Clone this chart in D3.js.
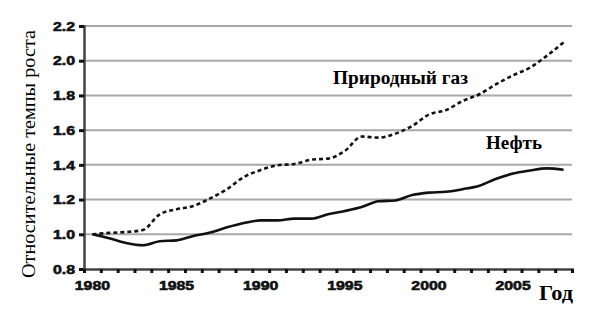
<!DOCTYPE html>
<html>
<head>
<meta charset="utf-8">
<script src="https://cdn.jsdelivr.net/npm/d3@7"></script>
<style>
  body { margin: 0; background: #fff; }
  svg { display: block; }
</style>
</head>
<body>
<div id="chart-area"></div>
<script>
const canvas_width = 600;
const canvas_height = 312;

const years = d3.range(1980, 2009);
const yearLabels = [1980, 1985, 1990, 1995, 2000, 2005];
const yTicks = [0.8, 1.0, 1.2, 1.4, 1.6, 1.8, 2.0, 2.2];

const oil = [1.00, 0.977, 0.95, 0.937, 0.96, 0.965, 0.99, 1.01, 1.04, 1.065,
             1.08, 1.08, 1.09, 1.09, 1.115, 1.134, 1.157, 1.19, 1.195, 1.226,
             1.24, 1.245, 1.26, 1.28, 1.32, 1.35, 1.367, 1.38, 1.372];
const gas = [1.00, 1.008, 1.013, 1.025, 1.115, 1.144, 1.163, 1.207, 1.26, 1.33,
             1.37, 1.398, 1.405, 1.43, 1.436, 1.48, 1.563, 1.557, 1.58, 1.624,
             1.69, 1.715, 1.768, 1.807, 1.865, 1.916, 1.96, 2.028, 2.105];

const sans = "'Liberation Sans', Arial, sans-serif";
const serif = "'Liberation Serif', 'Times New Roman', serif";

const margin = { left: 84, right: 28, top: 26, bottom: 43 };
const w = canvas_width - margin.left - margin.right;
const h = canvas_height - margin.top - margin.bottom;

// the original picture is stretched sideways a bit
const stretch = 1.22;
function widen(sel, k) {
    sel.each(function() {
        let len = this.getComputedTextLength();
        d3.select(this).attr('textLength', len * (k || stretch)).attr('lengthAdjust', 'spacingAndGlyphs');
    });
}

let svg = d3.select('#chart-area').append('svg')
    .attr('width', canvas_width)
    .attr('height', canvas_height);
let group = svg.append('g').attr('transform', `translate(${margin.left}, ${margin.top})`);

let x = d3.scaleBand()
    .domain(years)
    .range([0, w]);

let y = d3.scaleLinear()
    .domain([0.8, 2.2])
    .range([h, 0]);

// gridlines
group.selectAll('line.grid').data(yTicks.slice(1)).enter().append('line')
    .attr('class', 'grid')
    .attr('x1', 0).attr('x2', w)
    .attr('y1', d => y(d)).attr('y2', d => y(d))
    .attr('stroke', '#a8a8a8')
    .attr('stroke-width', 2);

// y axis
let leftAxis = d3.axisLeft(y)
    .tickValues(yTicks)
    .tickSize(5)
    .tickFormat(d3.format('.1f'));
let ly = group.append('g').attr('class', 'left axis').call(leftAxis);
ly.select('.domain').attr('stroke', '#444').attr('stroke-width', 2.5);
ly.selectAll('.tick line').attr('stroke', '#111').attr('stroke-width', 3);
ly.selectAll('.tick text')
    .attr('x', -9)
    .style('font-family', sans)
    .style('font-weight', 'bold')
    .style('font-size', '13px')
    .attr('fill', '#111')
    .attr('stroke', '#111')
    .attr('stroke-width', 0.6)
    .call(widen);

// x axis: ticks at category boundaries
let bounds = years.map(d => x(d)).concat([w]);
let bottomAxis = d3.axisBottom(d3.scaleLinear().domain([0, w]).range([0, w]))
    .tickValues(bounds)
    .tickSize(4)
    .tickFormat('');
let bx = group.append('g').attr('class', 'bottom axis')
    .attr('transform', `translate(0, ${h})`)
    .call(bottomAxis);
bx.select('.domain').attr('stroke', '#444').attr('stroke-width', 2.5);
bx.selectAll('.tick line').attr('stroke', '#111').attr('stroke-width', 3);

group.selectAll('text.xlab').data(yearLabels).enter().append('text')
    .attr('class', 'xlab')
    .attr('x', d => x(d) + x.bandwidth() / 2)
    .attr('y', h + 21)
    .attr('text-anchor', 'middle')
    .style('font-family', sans)
    .style('font-weight', 'bold')
    .style('font-size', '13px')
    .attr('fill', '#111')
    .attr('stroke', '#111')
    .attr('stroke-width', 0.6)
    .text(d => d)
    .call(widen);

// lines
let line = d3.line()
    .x((d, i) => x(years[i]) + x.bandwidth() / 2)
    .y(d => y(d))
    .curve(d3.curveMonotoneX);

group.append('path')
    .datum(oil)
    .attr('fill', 'none')
    .attr('stroke', '#111')
    .attr('stroke-width', 2.6)
    .attr('d', line);

group.append('path')
    .datum(gas)
    .attr('fill', 'none')
    .attr('stroke', '#111')
    .attr('stroke-width', 2.6)
    .attr('stroke-dasharray', '4,3')
    .attr('d', line);

// annotations
function label(txt, px, py, size, bold, anchor) {
    return svg.append('text')
        .attr('x', px).attr('y', py)
        .attr('text-anchor', anchor || 'start')
        .style('font-family', serif)
        .style('font-size', size + 'px')
        .style('font-weight', bold ? 'bold' : 'normal')
        .attr('fill', '#000')
        .text(txt);
}

label('Природный газ', 333, 84, 18, true).attr('textLength', 135).attr('lengthAdjust', 'spacingAndGlyphs');
label('Нефть', 486, 149, 18, true).attr('textLength', 56).attr('lengthAdjust', 'spacingAndGlyphs');
label('Год', 573, 300, 20, true, 'end').attr('textLength', 34).attr('lengthAdjust', 'spacingAndGlyphs');

label('Относительные темпы роста', -154, 35, 19, false, 'middle')
    .attr('textLength', 248).attr('lengthAdjust', 'spacingAndGlyphs')
    .attr('transform', 'rotate(-90)');
</script>
</body>
</html>
